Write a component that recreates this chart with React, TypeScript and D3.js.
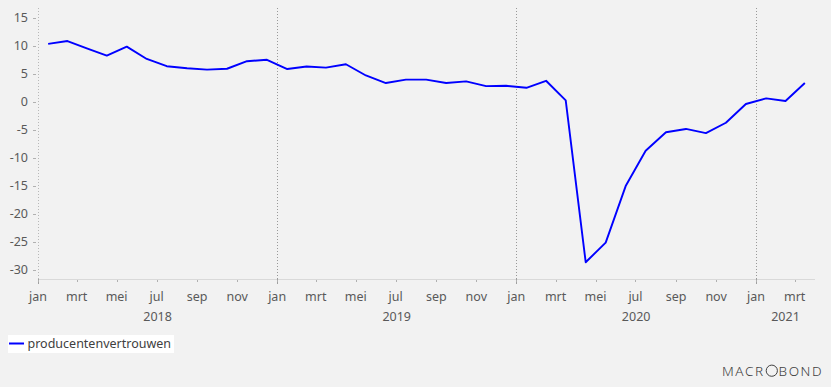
import React from "react";
import * as d3 from "d3";

const W = 831;
const H = 387;

// Monthly values Jan 2018 .. Mar 2021
const startYear = 2018;
const values: number[] = [
  10.3, 10.8, 9.5, 8.2, 9.8, 7.6, 6.3, 5.95, 5.7, 5.85, 7.2, 7.45,
  5.8, 6.25, 6.05, 6.65, 4.65, 3.3, 3.9, 3.9, 3.3, 3.6, 2.75, 2.8,
  2.45, 3.7, 0.2, -28.7, -25.2, -15.1, -8.8, -5.5, -4.9, -5.65, -3.8, -0.45,
  0.55, 0.1, 3.3,
];
const seriesName = "producentenvertrouwen";
const yTicks = [15, 10, 5, 0, -5, -10, -15, -20, -25, -30];
const monthLabels = ["jan", "feb", "mrt", "apr", "mei", "jun", "jul", "aug", "sep", "okt", "nov", "dec"];
const yearLabels = ["2018", "2019", "2020", "2021"];

const margin = { left: 38, right: 815, top: 8, bottom: 279 };
const textColor = "#595959";
const font = "'Noto Sans', 'Open Sans', sans-serif";

export default function App() {
  const x = d3
    .scaleTime()
    .domain([new Date(2018, 0, 1), new Date(2021, 3, 1)])
    .range([margin.left, margin.right]);
  const y = d3.scaleLinear().domain([-30, 15]).range([269.5, 17.5]);

  const points = values.map((v, i) => {
    const s = new Date(startYear, i, 1);
    const e = new Date(startYear, i + 1, 1);
    const mid = new Date((s.getTime() + e.getTime()) / 2);
    return { d: mid, v };
  });
  const line = d3
    .line<{ d: Date; v: number }>()
    .x((p) => x(p.d))
    .y((p) => y(p.v));

  const monthTicks = d3.timeMonth.every(2)!.range(new Date(2018, 0, 1), new Date(2021, 3, 2));
  const yearTicks = d3.timeYear.range(new Date(2018, 0, 1), new Date(2021, 1, 1));

  return (
    <svg
      width={W}
      height={H}
      style={{ position: "absolute", left: 0, top: 0, background: "#f2f2f2" }}
    >
      <rect x={0} y={0} width={W} height={H} fill="#f2f2f2" />
      <line x1={margin.left} x2={margin.right} y1={margin.bottom + 0.5} y2={margin.bottom + 0.5} stroke="#d9d9d9" />
      <line
        x1={margin.left + 0.5}
        x2={margin.left + 0.5}
        y1={margin.top}
        y2={margin.bottom}
        stroke="#b8b8b8"
        strokeDasharray="1,2"
      />
      {yearTicks.slice(1).map((d, i) => (
        <line
          key={"yg" + i}
          x1={Math.round(x(d)) + 0.5}
          x2={Math.round(x(d)) + 0.5}
          y1={margin.top}
          y2={margin.bottom}
          stroke="#999999"
          strokeDasharray="1,2"
        />
      ))}
      {yearTicks.map((d, i) => (
        <line
          key={"yt" + i}
          x1={Math.round(x(d)) + 0.5}
          x2={Math.round(x(d)) + 0.5}
          y1={margin.bottom}
          y2={margin.bottom + 5}
          stroke="#a0a0a0"
        />
      ))}
      {monthTicks.map((d, i) => (
        <line
          key={"mt" + i}
          x1={Math.round(x(d)) + 0.5}
          x2={Math.round(x(d)) + 0.5}
          y1={margin.bottom + 1}
          y2={margin.bottom + 3}
          stroke="#b0b0b0"
        />
      ))}
      {monthTicks.map((d, i) => (
        <text
          key={"ml" + i}
          x={x(d)}
          y={301}
          textAnchor="middle"
          fontFamily={font}
          fontSize={12.5}
          fill={textColor}
        >
          {monthLabels[d.getMonth()]}
        </text>
      ))}
      {yearLabels.map((lab, i) => {
        const s = x(new Date(startYear + i, 0, 1));
        const e = Math.min(x(new Date(startYear + i + 1, 0, 1)), margin.right);
        return (
          <text
            key={"yl" + i}
            x={(s + e) / 2}
            y={321}
            textAnchor="middle"
            fontFamily={font}
            fontSize={12.5}
            fill={textColor}
          >
            {lab}
          </text>
        );
      })}
      {yTicks.map((t) => (
        <g key={"y" + t}>
          <line x1={33} x2={36} y1={Math.round(y(t)) + 0.5} y2={Math.round(y(t)) + 0.5} stroke="#b0b0b0" />
          <text
            x={28}
            y={y(t)}
            dy="0.35em"
            textAnchor="end"
            fontFamily={font}
            fontSize={12.5}
            fill={textColor}
          >
            {t}
          </text>
        </g>
      ))}
      <path d={line(points) || ""} fill="none" stroke="#0000ff" strokeWidth={1.9} strokeLinejoin="round" />
      <rect x={8} y={335} width={166} height={18} fill="#ffffff" />
      <line x1={9} x2={24} y1={343.5} y2={343.5} stroke="#0000ff" strokeWidth={2} />
      <text x={27.5} y={348} fontFamily={font} fontSize={12.5} fill="#404040">
        {seriesName}
      </text>
      <text x={722} y={375.5} fontFamily={font} fontSize={13.5} fontWeight={300} letterSpacing={1.6} fill="#404040">
        MACR
      </text>
      <circle cx={771.8} cy={370.7} r={5.6} fill="none" stroke="#404040" strokeWidth={1} />
      <text x={778.5} y={375.5} fontFamily={font} fontSize={13.5} fontWeight={300} letterSpacing={1.6} fill="#404040">
        BOND
      </text>
    </svg>
  );
}
